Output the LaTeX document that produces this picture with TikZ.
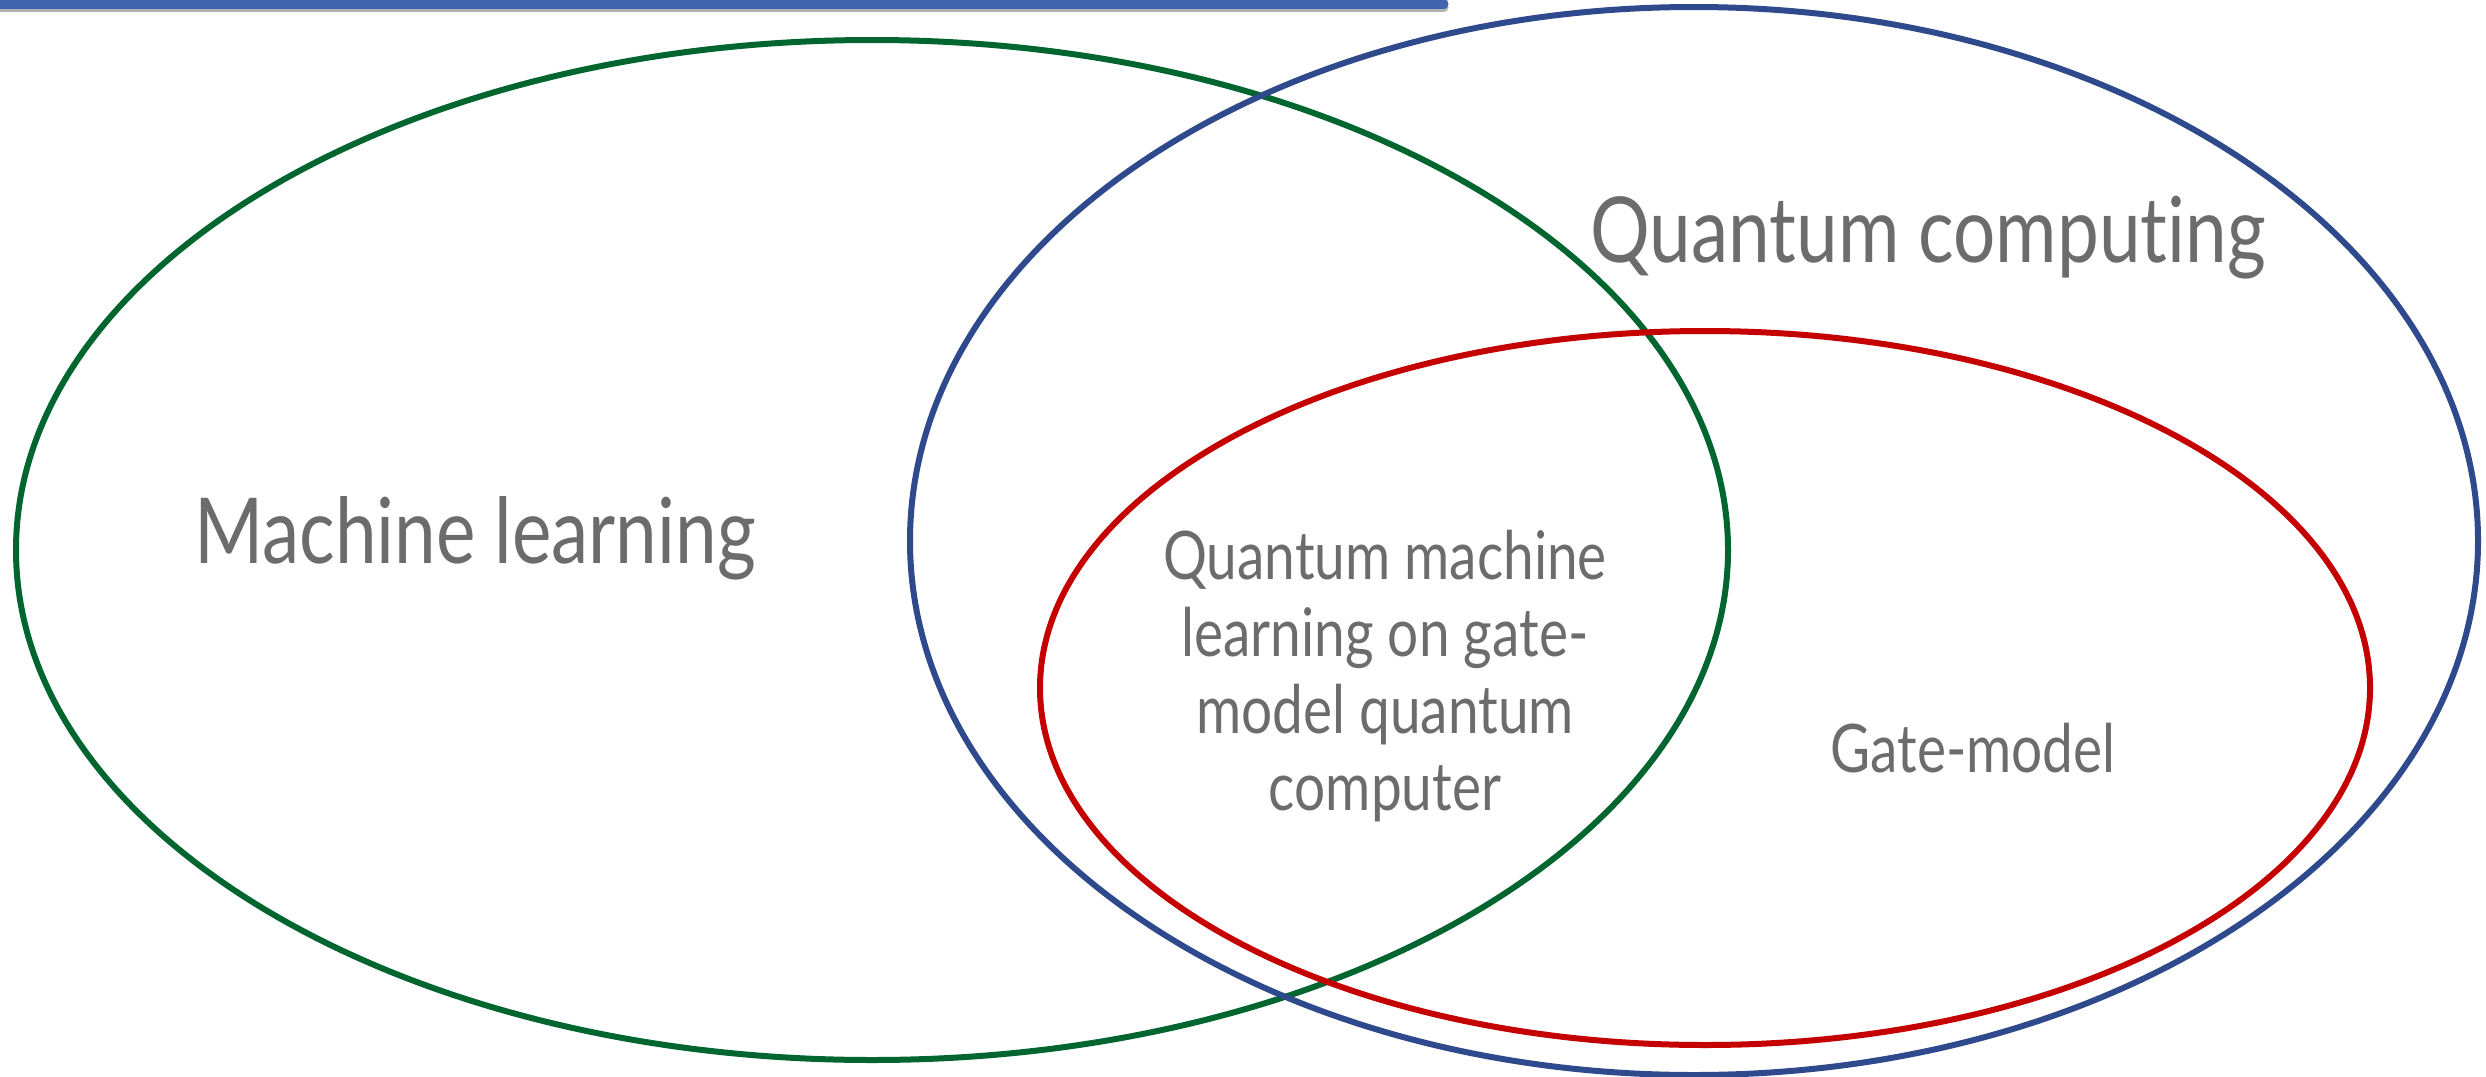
\documentclass[tikz,border=0pt]{standalone}
\usepackage{fontspec}
\setmainfont[FakeStretch=0.82, Ligatures=NoCommon]{Lato}
\definecolor{mlgreen}{HTML}{00652F}
\definecolor{qcblue}{HTML}{2E4A8C}
\definecolor{gmred}{HTML}{C40000}
\definecolor{txtgrey}{HTML}{6C6C6C}
\definecolor{barblue}{HTML}{4066B0}
\begin{document}
\begin{tikzpicture}[x=1pt,y=-1pt,
  setline/.style={line width=6pt},
  label/.style={text=txtgrey, inner sep=0pt, align=center},
  bigtext/.style={font=\fontsize{91}{100}\selectfont},
  smalltext/.style={font=\fontsize{67}{77}\selectfont}]
\useasboundingbox (0,0) rectangle (2486,1076);
% top bar
\draw[line width=9pt, gray!60, line cap=round] (0,7) -- (1444,7);
\draw[line width=9pt, barblue, line cap=round] (0,4) -- (1444,4);
% ellipses
\draw[setline, mlgreen] (872,550) ellipse [x radius=856, y radius=510];
\draw[setline, qcblue] (1694,541) ellipse [x radius=784, y radius=534];
\draw[setline, gmred] (1705,688) ellipse [x radius=665, y radius=357];
% labels
\node[label, bigtext, anchor=base] (ml) at (475,563) {Machine learning};
\node[label, bigtext, anchor=base] (qc) at (1928,262) {Quantum computing};
\node[label, smalltext, anchor=base] (qml) at (1385,810)
  {Quantum machine\\learning on gate-\\model quantum\\computer};
\node[label, smalltext, anchor=base] (gm) at (1973,772) {Gate-model};
\end{tikzpicture}
\end{document}
